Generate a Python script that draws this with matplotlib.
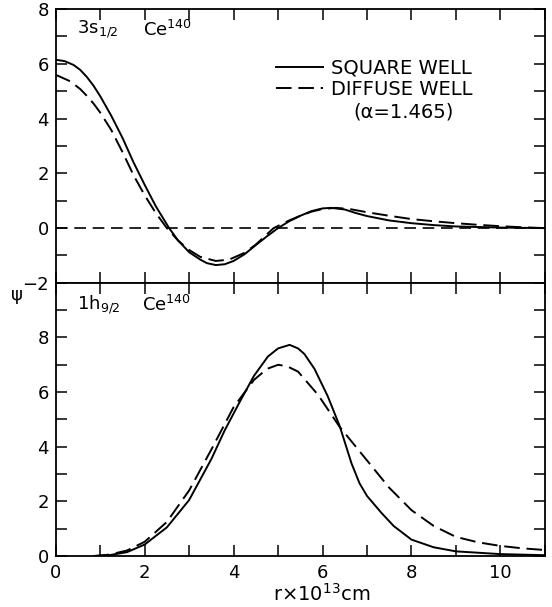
import matplotlib

matplotlib.use("Agg")
import matplotlib.pyplot as plt

# 3s1/2 state, Ce140
r_s_sq = [0.0, 0.2, 0.4, 0.55, 0.7, 0.85, 1.0, 1.25, 1.5, 1.75, 2.0, 2.25, 2.55, 2.75,
          3.0, 3.25, 3.4, 3.6, 3.8, 4.0, 4.25, 4.5, 4.75, 5.0, 5.25, 5.5, 5.75, 6.0,
          6.2, 6.5, 6.75, 7.0, 7.5, 8.0, 8.5, 9.0, 10.0, 11.0]
psi_s_sq = [6.15, 6.1, 5.96, 5.78, 5.52, 5.2, 4.82, 4.1, 3.3, 2.4, 1.58, 0.8, 0.0, -0.45,
            -0.88, -1.15, -1.28, -1.35, -1.32, -1.2, -0.95, -0.62, -0.3, 0.0, 0.25, 0.45, 0.62, 0.72,
            0.74, 0.68, 0.55, 0.44, 0.28, 0.18, 0.11, 0.06, 0.02, 0.0]
r_s_df = [0.0, 0.33, 0.55, 0.7, 0.85, 1.0, 1.25, 1.5, 1.76, 2.0, 2.25, 2.5, 2.75, 3.0,
          3.25, 3.6, 3.9, 4.25, 4.5, 4.9, 5.25, 5.5, 5.75, 6.0, 6.3, 6.6, 7.0, 7.5,
          8.0, 8.5, 9.0, 9.5, 10.0, 10.5, 11.0]
psi_s_df = [5.6, 5.36, 5.08, 4.83, 4.55, 4.22, 3.58, 2.78, 1.9, 1.2, 0.55, 0.0, -0.45, -0.8,
            -1.05, -1.2, -1.15, -0.9, -0.6, 0.0, 0.28, 0.45, 0.6, 0.7, 0.74, 0.7, 0.58, 0.45,
            0.33, 0.25, 0.18, 0.12, 0.07, 0.03, 0.0]

# 1h9/2 state, Ce140
r_h_sq = [0.88, 1.2, 1.6, 2.0, 2.5, 3.0, 3.5, 3.8, 4.16, 4.46, 4.77, 5.0, 5.26, 5.45,
          5.59, 5.82, 6.12, 6.39, 6.65, 6.83, 7.0, 7.33, 7.6, 8.0, 8.5, 9.0, 10.0, 11.0]
psi_h_sq = [0.0, 0.03, 0.14, 0.42, 1.05, 2.05, 3.55, 4.6, 5.71, 6.6, 7.3, 7.6, 7.73, 7.6,
            7.4, 6.85, 5.84, 4.74, 3.4, 2.67, 2.2, 1.57, 1.1, 0.6, 0.32, 0.17, 0.07, 0.03]
r_h_df = [0.85, 1.2, 1.6, 2.0, 2.5, 3.0, 3.5, 4.0, 4.46, 4.75, 5.0, 5.2, 5.45, 5.9,
          6.38, 7.0, 7.5, 8.0, 8.5, 9.0, 9.5, 10.0, 10.5, 11.0]
psi_h_df = [0.0, 0.05, 0.2, 0.52, 1.25, 2.4, 3.9, 5.45, 6.45, 6.85, 7.0, 6.95, 6.75, 5.9,
            4.74, 3.5, 2.5, 1.68, 1.1, 0.7, 0.5, 0.37, 0.28, 0.22]

x_ticks = list(range(0, 12))
x_labels = [str(v) if v % 2 == 0 and v <= 10 else "" for v in x_ticks]
top_yticks = list(range(-2, 9))
top_ylabels = [("\u2212" + str(-v) if v < 0 else str(v)) if v % 2 == 0 else "" for v in top_yticks]
bot_yticks = list(range(0, 11))
bot_ylabels = [str(v) if v % 2 == 0 and v < 10 else "" for v in bot_yticks]

plt.rcParams["font.family"] = "DejaVu Sans"
fs = 13
dash = (0, (8, 3.5))
line_kw = dict(color="black", linewidth=1.4, solid_joinstyle="round",
               dash_joinstyle="round")

fig = plt.figure(figsize=(5.52, 6.07), dpi=100)
ax_top = fig.add_axes([0.101, 0.534, 0.886, 0.451])
ax_bot = fig.add_axes([0.101, 0.084, 0.886, 0.450])

ax_top.plot(r_s_sq, psi_s_sq, label="SQUARE WELL", **line_kw)
ax_top.plot(r_s_df, psi_s_df, linestyle=dash, label="DIFFUSE WELL", **line_kw)
ax_top.axhline(0, color="black", linewidth=1.2, linestyle=(0, (7, 4)))
ax_top.set_ylim(-2, 8)
ax_top.set_yticks(top_yticks)
ax_top.set_yticklabels(top_ylabels, fontsize=fs)

ax_bot.plot(r_h_sq, psi_h_sq, **line_kw)
ax_bot.plot(r_h_df, psi_h_df, linestyle=dash, **line_kw)
ax_bot.set_ylim(0, 10)
ax_bot.set_yticks(bot_yticks)
ax_bot.set_yticklabels(bot_ylabels, fontsize=fs)

for ax in (ax_top, ax_bot):
    ax.set_xlim(0, 11)
    ax.set_xticks(x_ticks)
    ax.tick_params(direction="in", length=8, width=1.1, top=True, right=True,
                   pad=5, labelsize=fs)
    for s in ax.spines.values():
        s.set_linewidth(1.3)
ax_top.set_xticklabels([])
ax_bot.set_xticklabels(x_labels, fontsize=fs)
ax_bot.tick_params(axis="x", pad=6)

ax_top.legend(loc="upper left", bbox_to_anchor=(0.45, 0.818), frameon=False,
              fontsize=14, handlelength=2.4, handletextpad=0.45,
              labelspacing=0.12, borderpad=0, borderaxespad=0)
ax_top.text(0.712, 0.624, "(\u03b1=1.465)", transform=ax_top.transAxes,
            ha="center", va="center", fontsize=14)

ax_top.text(0.043, 0.925, r"3s$_{1/2}$", transform=ax_top.transAxes,
            ha="left", va="center", fontsize=fs)
ax_top.text(0.178, 0.925, r"Ce$^{140}$", transform=ax_top.transAxes,
            ha="left", va="center", fontsize=fs)
ax_bot.text(0.043, 0.92, r"1h$_{9/2}$", transform=ax_bot.transAxes,
            ha="left", va="center", fontsize=fs)
ax_bot.text(0.176, 0.92, r"Ce$^{140}$", transform=ax_bot.transAxes,
            ha="left", va="center", fontsize=fs)

fig.text(0.031, 0.514, "\u03c8", ha="center", va="center", fontsize=fs)
fig.text(0.583, 0.004, r"r$\times$10$^{13}$cm", ha="center", va="bottom", fontsize=14)

fig.savefig("out.png", dpi=100)
